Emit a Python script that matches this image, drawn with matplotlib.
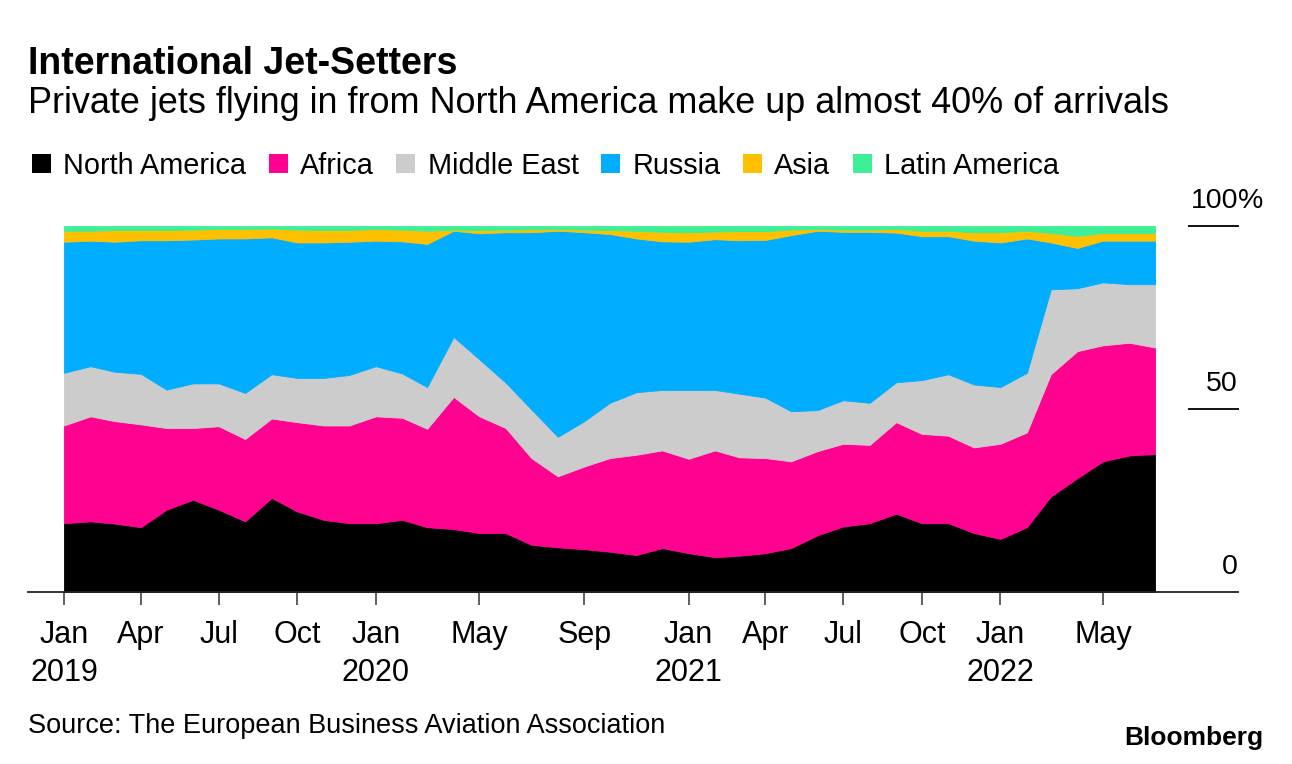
import pandas as pd
import matplotlib.pyplot as plt
import matplotlib.dates as mdates
from matplotlib.patches import Patch
from matplotlib.transforms import offset_copy

plt.rcParams['font.family'] = ['Liberation Sans', 'DejaVu Sans']

# Monthly share of private jet arrivals by origin (%), Jan 2019 - Jul 2022
months = pd.date_range("2019-01-01", periods=43, freq="MS")

north_america = [18.8, 19.3, 18.7, 17.7, 22.5, 25.2, 22.5, 19.3, 25.7, 22.0, 19.7, 18.8,
                 18.8, 19.7, 17.7, 17.2, 16.1, 16.1, 12.9, 12.2, 11.7, 11.0, 10.1, 12.0,
                 10.6, 9.5, 9.9, 10.6, 12.0, 15.5, 17.9, 18.8, 21.4, 18.8, 18.8, 16.1,
                 14.5, 17.7, 26.1, 31.1, 35.7, 37.3, 37.7]
africa = [26.7, 28.7, 28.0, 28.1, 22.3, 19.6, 22.8, 22.5, 21.7, 24.4, 25.8, 26.7,
          29.2, 27.9, 26.9, 36.1, 31.9, 28.7, 23.7, 19.4, 22.6, 25.6, 27.4, 26.7,
          25.8, 29.2, 26.9, 26.0, 23.7, 23.0, 22.6, 21.4, 25.0, 24.4, 23.9, 23.4,
          26.0, 25.9, 33.4, 34.7, 31.7, 30.8, 29.1]
middle_east = [14.4, 13.7, 13.5, 13.8, 10.5, 12.2, 11.7, 12.6, 12.1, 12.1, 13.0, 13.8,
               13.7, 12.1, 11.4, 16.4, 15.6, 12.4, 13.3, 10.8, 12.4, 15.1, 17.1, 16.5,
               18.8, 16.5, 17.4, 16.5, 13.7, 11.2, 11.9, 11.5, 10.9, 14.7, 16.8, 17.2,
               15.5, 16.3, 23.2, 17.2, 17.2, 16.0, 17.3]
russia = [35.8, 34.3, 35.5, 36.5, 40.8, 39.3, 39.6, 42.2, 37.4, 37.0, 37.0, 36.4,
          34.3, 36.1, 39.1, 29.0, 34.4, 41.1, 48.4, 56.3, 51.6, 46.1, 42.0, 40.6,
          40.5, 41.2, 41.9, 43.1, 48.1, 49.0, 46.0, 46.7, 40.9, 39.3, 37.7, 39.3,
          39.5, 36.7, 12.8, 11.0, 11.4, 11.9, 11.9]
asia = [3.0, 2.7, 3.2, 2.8, 2.8, 2.7, 2.6, 2.6, 2.4, 3.5, 3.4, 3.2,
        3.2, 3.2, 3.6, 0.3, 0.9, 0.7, 0.8, 0.5, 0.7, 1.1, 2.1, 2.6,
        2.6, 2.1, 2.5, 2.4, 1.5, 0.5, 0.6, 0.6, 1.0, 1.5, 1.5, 2.3,
        2.8, 2.1, 2.6, 3.3, 2.1, 2.1, 2.1]
latin_america = [1.3, 1.3, 1.1, 1.1, 1.1, 1.0, 0.8, 0.8, 0.7, 1.0, 1.1, 1.1,
                 0.8, 1.0, 1.3, 1.0, 1.1, 1.0, 0.9, 0.8, 1.0, 1.1, 1.3, 1.6,
                 1.7, 1.5, 1.4, 1.4, 1.0, 0.8, 1.0, 1.0, 0.8, 1.3, 1.3, 1.7,
                 1.7, 1.3, 1.9, 2.7, 1.9, 1.9, 1.9]

labels = ["North America", "Africa", "Middle East", "Russia", "Asia", "Latin America"]
colors = ["#000000", "#ff0290", "#cccccc", "#00adff", "#ffc000", "#3def97"]

tick_dates = pd.to_datetime(["2019-01-01", "2019-04-01", "2019-07-01", "2019-10-01",
                             "2020-01-01", "2020-05-01", "2020-09-01",
                             "2021-01-01", "2021-04-01", "2021-07-01", "2021-10-01",
                             "2022-01-01", "2022-05-01"])
tick_labels = ["Jan\n2019", "Apr", "Jul", "Oct", "Jan\n2020", "May", "Sep",
               "Jan\n2021", "Apr", "Jul", "Oct", "Jan\n2022", "May"]

W, H = 1292, 764
fig = plt.figure(figsize=(W / 100, H / 100), dpi=100)
ax = fig.add_axes([28 / W, (H - 592) / H, 1210 / W, 366 / H])

ax.stackplot(months, north_america, africa, middle_east, russia, asia, latin_america,
             colors=colors, labels=labels, edgecolor="face", linewidth=0.6)

# x range: first month sits 36 px in from the left edge, ~0.8544 px per day
x0 = mdates.date2num(months[0])
px_per_day = 0.8544
ax.set_xlim(x0 - 36 / px_per_day, x0 + (1238 - 64) / px_per_day)
ax.set_ylim(0, 100)

ax.set_xticks(tick_dates)
ax.set_xticklabels(tick_labels, fontsize=22, linespacing=1.35)
ax.tick_params(axis="x", length=9, width=1.1, color="#333333", pad=11)
ax.set_yticks([])
for s in ["left", "right", "top"]:
    ax.spines[s].set_visible(False)
ax.spines["bottom"].set_color("#222222")
ax.spines["bottom"].set_linewidth(1.3)

# right-hand value labels sitting above short rule lines
lbl_tr = offset_copy(ax.get_yaxis_transform(), fig=fig, y=13, units="points")
for v in [100, 50]:
    ax.axhline(v, xmin=(1189 - 28) / 1210, xmax=1, color="#111111", lw=1.4, clip_on=False)
ax.text(1.0, 100, "100", transform=lbl_tr, ha="right", va="baseline", fontsize=20.5)
ax.text(1.0, 100, "%", transform=lbl_tr, ha="left", va="baseline", fontsize=20.5)
ax.text(1.0, 50, "50", transform=lbl_tr, ha="right", va="baseline", fontsize=20.5)
ax.text(1.0, 0, "0", transform=lbl_tr, ha="right", va="baseline", fontsize=20.5)

fig.text(28 / W, 1 - 74 / H, "International Jet-Setters", fontsize=27, weight="bold",
         va="baseline")
fig.text(28 / W, 1 - 113 / H,
         "Private jets flying in from North America make up almost 40% of arrivals",
         fontsize=25.9, va="baseline")

handles = [Patch(facecolor=c, edgecolor="none") for c in colors]
fig.legend(handles, labels, loc="center left", bbox_to_anchor=(32 / W, 1 - 165.5 / H),
           ncol=6, frameon=False, fontsize=20.8, handlelength=0.66, handleheight=0.66,
           handletextpad=0.42, columnspacing=0.78, borderpad=0, borderaxespad=0)

fig.text(28 / W, 1 - 733 / H, "Source: The European Business Aviation Association",
         fontsize=19.5, va="baseline")
fig.text(1263 / W, 1 - 745 / H, "Bloomberg", fontsize=19, weight="bold",
         ha="right", va="baseline")

fig.savefig("out.png", dpi=100)
